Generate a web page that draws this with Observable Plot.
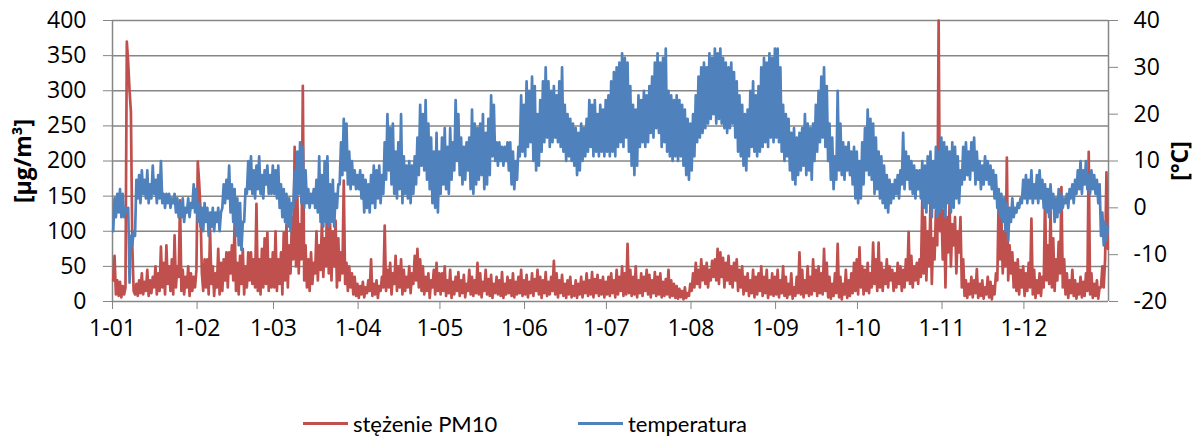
<!DOCTYPE html>
<html><head><meta charset="utf-8">
<script src="https://cdn.jsdelivr.net/npm/d3@7"></script>
<script src="https://cdn.jsdelivr.net/npm/@observablehq/plot@0.6"></script>
<style>
body{margin:0;background:#fff;}
#wrap{position:relative;width:1196px;height:437px;font-family:Lato,"Open Sans",sans-serif;background:#fff;}
#legend{position:absolute;top:408px;left:0;width:1196px;height:30px;font-size:22px;color:#000;}
.item{position:absolute;top:0;display:flex;align-items:center;height:30px;white-space:nowrap;}
.sw{width:45px;height:3px;margin-right:5px;}
</style></head><body>
<div id="wrap"><div id="chart"></div><div id="legend"></div></div>
<script>
const year = 2010;
const monthLabels = ["1-01","1-02","1-03","1-04","1-05","1-06","1-07","1-08","1-09","1-10","1-11","1-12"];
const pmTicks = [0,50,100,150,200,250,300,350,400];
const tempTicks = [-20,-10,0,10,20,30,40];
const seriesNames = ["stężenie PM10","temperatura"];
const seriesColors = ["#C0504D","#4F81BD"];

// temperatura [°C], two samples per day (night, day)
const tJan = [-5,2, -2,3, -1,4, -2,3, -2,0, -1,0, -16,-6, -8,-5, -6,6, 2,7, 1,8, 3,6, 2,8, 1,5, 2,9, 3,6, 1,7, 2,10, 1,3, 0,3, 1,3, 0,2, 1,3, -1,2, -2,1, -2,2, -3,0, -1,2, -2,1, 0,5, -1,4];
const tFeb = [-3,1, -4,0, -5,1, -3,0, -6,-1, -4,0, -5,-1, -3,0, -5,-1, 0,5, 1,6, 2,9, -1,5, -3,4, -6,2, -8,1, -9,-3, -3,4, 3,10, 4,11, 3,8, 2,9, 4,11, 3,7, 2,8, 5,9, 3,7, 3,9];
const tMar = [3,8, 2,9, 0,5, -2,4, -3,3, -4,2, -5,1, 0,8, 2,12, 3,14, 1,13, 0,8, 1,4, 0,3, 1,4, 0,6, -1,11, -3,7, -4,10, -3,11, -4,5, -3,6, -4,3, 0,5, 5,14, 7,19, 8,18, 5,12, 4,10, 5,8, 4,7];
const tApr = [4,8, 2,7, -1,6, 0,5, -1,7, 1,9, 0,8, 2,9, 1,7, 3,14, 6,20, 8,17, 5,18, 3,12, 2,14, 4,20, 1,11, 3,9, 2,10, 1,9, 3,11, 5,15, 7,22, 9,20, 8,23, 6,18, 4,15, 1,12, 0,16, -1,12];
const tMay = [3,15, 5,17, 4,13, 3,17, 6,14, 8,23, 10,20, 7,15, 5,13, 6,14, 8,15, 4,21, 3,18, 5,17, 6,18, 7,20, 4,16, 5,19, 7,24, 11,22, 10,14, 9,14, 10,13, 9,13, 10,14, 8,14, 5,12, 4,10, 6,13, 11,24, 12,22];
const tJun = [11,27, 13,25, 14,28, 10,26, 8,20, 9,23, 12,27, 14,30, 15,27, 13,25, 14,26, 15,24, 14,27, 13,30, 12,22, 10,20, 11,19, 10,18, 9,17, 7,16, 8,18, 10,17, 11,19, 12,23, 13,22, 11,23, 12,20, 11,22, 12,21, 11,23];
const tJul = [12,24, 11,27, 12,29, 11,30, 13,31, 14,33, 13,32, 15,31, 12,26, 9,22, 7,21, 9,24, 13,23, 14,25, 13,24, 14,26, 16,28, 15,31, 17,33, 16,31, 13,32, 14,34, 12,25, 11,24, 10,23, 11,24, 10,23, 11,22, 9,21, 7,19, 6,18];
const tAug = [8,20, 11,24, 14,28, 15,30, 16,31, 17,30, 18,33, 19,32, 20,34, 18,33, 19,34, 18,32, 17,31, 16,30, 17,31, 18,29, 15,27, 12,24, 11,22, 9,20, 8,21, 11,25, 13,27, 12,24, 11,26, 12,30, 13,32, 14,31, 13,33, 15,32, 14,34];
const tSep = [15,34, 14,30, 12,22, 10,20, 11,19, 8,16, 6,17, 5,15, 7,16, 8,17, 9,20, 7,18, 8,17, 6,18, 10,22, 12,25, 14,28, 15,30, 13,26, 10,18, 6,15, 4,11, 6,25, 8,18, 7,14, 6,13, 8,14, 7,12, 5,13, 2,12];
const tOct = [1,10, 2,14, 5,17, 8,21, 7,19, 6,18, 3,15, 4,12, 2,11, 1,9, 0,7, -1,6, 1,5, 2,6, 3,7, 2,8, 5,16, 4,12, 6,11, 4,10, 3,9, 2,8, 4,8, 2,10, 0,9, -1,11, 1,12, -2,10, 0,13, -2,12, -1,15];
const tNov = [0,14, -2,13, 1,12, -1,14, 0,13, 2,11, 1,8, 5,13, 6,14, 7,12, 6,14, 8,15, 5,12, 6,10, 4,9, 5,11, 6,10, 5,9, 4,8, 2,7, 0,4, -2,3, -3,2, -5,1, -7,0, -3,2, -2,0, -1,1, 0,2, 1,6];
const tDec = [2,7, 1,6, 2,8, 1,5, 2,7, 1,8, 2,6, 0,5, -1,4, -2,5, 0,3, -3,2, -2,4, -1,3, 0,2, 1,3, 0,4, 2,5, 1,6, 3,8, 4,10, 3,8, 5,10, 4,7, 3,8, 4,7, 3,6, 1,5, -6,-1, -8,-3, -7,-4];

// stężenie PM10 [µg/m³], two samples per day
const pJan = [30,65, 10,30, 8,28, 6,22, 10,20, 370,340, 300,270, 80,15, 10,25, 8,30, 12,40, 10,28, 15,45, 8,30, 12,35, 20,50, 10,40, 15,78, 20,55, 10,80, 25,50, 15,60, 10,94, 20,50, 35,144, 15,45, 10,35, 20,50, 8,40, 15,35, 20,45];
const pFeb = [199,170, 130,40, 15,60, 20,60, 10,103, 25,50, 8,40, 20,75, 10,55, 15,60, 30,70, 20,70, 40,80, 30,113, 15,55, 10,65, 25,75, 10,50, 20,70, 30,70, 25,60, 20,139, 15,60, 10,75, 20,90, 25,98, 15,60, 20,70];
const pMar = [20,100, 15,60, 25,70, 10,98, 30,110, 20,80, 40,120, 60,220, 50,150, 40,110, 60,307, 30,80, 20,60, 15,70, 25,55, 40,100, 30,80, 45,115, 35,90, 50,194, 40,110, 30,100, 50,115, 20,90, 30,70, 40,172, 25,55, 15,50, 20,40, 10,35, 8,25];
const pApr = [5,22, 10,28, 6,20, 12,30, 15,60, 8,25, 10,30, 5,22, 15,35, 20,108, 15,45, 20,55, 10,40, 25,65, 15,50, 20,60, 10,45, 15,35, 20,50, 12,40, 25,65, 30,75, 20,60, 15,50, 10,35, 15,40, 5,30, 20,45, 10,55, 15,40];
const pMay = [10,40, 15,50, 8,30, 12,45, 5,28, 10,35, 15,42, 8,30, 12,38, 6,25, 15,45, 10,35, 8,30, 12,55, 10,40, 6,28, 15,45, 10,32, 8,38, 5,25, 12,35, 10,30, 8,42, 5,25, 10,35, 12,30, 8,40, 6,28, 10,35, 12,45, 8,30];
const pJun = [10,38, 6,28, 12,40, 8,32, 15,45, 10,35, 5,30, 12,42, 8,28, 10,35, 15,58, 10,40, 6,30, 12,38, 8,25, 5,30, 10,35, 6,22, 8,30, 5,25, 10,35, 6,28, 12,40, 8,30, 10,42, 6,32, 12,38, 8,30, 10,35, 6,28];
const pJul = [10,35, 8,40, 12,30, 6,45, 10,35, 15,50, 8,40, 10,82, 12,45, 8,35, 10,50, 6,30, 12,40, 8,35, 15,45, 10,38, 6,30, 12,42, 8,35, 10,40, 6,28, 8,32, 10,45, 6,30, 8,25, 5,22, 4,18, 6,15, 3,20, 5,12, 8,25];
const pAug = [15,40, 20,55, 25,45, 20,60, 30,50, 25,55, 20,45, 30,58, 35,60, 30,75, 25,70, 35,62, 20,55, 30,65, 25,50, 20,55, 30,60, 15,45, 20,50, 10,35, 15,40, 8,30, 12,45, 6,35, 10,40, 15,50, 8,35, 12,45, 5,30, 10,40, 8,35];
const pSep = [10,45, 6,30, 12,50, 8,35, 5,25, 10,40, 4,20, 8,35, 12,70, 10,45, 6,30, 12,50, 8,35, 10,60, 15,45, 8,50, 12,40, 10,75, 15,55, 6,35, 4,25, 8,40, 12,82, 6,35, 3,25, 10,45, 5,30, 8,40, 12,55, 15,60];
const pOct = [10,77, 20,50, 10,45, 15,55, 12,40, 20,84, 25,60, 15,84, 20,55, 15,45, 25,60, 20,50, 30,45, 15,40, 20,55, 25,50, 15,45, 20,60, 30,99, 25,65, 20,50, 30,55, 25,60, 35,144, 40,120, 30,100, 50,140, 25,90, 60,130, 80,400, 100,140];
const pNov = [60,130, 20,120, 70,140, 50,110, 80,120, 40,100, 70,120, 20,60, 8,30, 5,25, 10,35, 6,30, 12,46, 5,25, 8,30, 4,20, 10,35, 6,28, 3,22, 10,40, 30,148, 60,120, 40,100, 50,205, 30,80, 40,70, 20,55, 15,60, 10,45, 20,50];
const pDec = [8,40, 15,55, 20,118, 10,45, 5,30, 12,40, 8,35, 20,151, 30,80, 25,132, 20,90, 15,60, 30,85, 40,163, 20,60, 10,40, 5,30, 12,45, 8,30, 4,25, 10,35, 6,28, 8,40, 15,213, 10,40, 5,25, 8,30, 4,20, 20,50, 20,60, 184,75];

const tempMonths = [tJan,tFeb,tMar,tApr,tMay,tJun,tJul,tAug,tSep,tOct,tNov,tDec];
const pmMonths = [pJan,pFeb,pMar,pApr,pMay,pJun,pJul,pAug,pSep,pOct,pNov,pDec];

function build(months) {
  const out = [];
  months.forEach((arr, m) => arr.forEach((v, i) => out.push({
    date: new Date(Date.UTC(year, m, 1 + Math.floor(i / 2), (i % 2) * 12 + 6)),
    value: v
  })));
  return out;
}
const pm = build(pmMonths);
const temp = build(tempMonths);
const toLeft = t => (t + 20) * 400 / 60;
const x0 = new Date(Date.UTC(year, 0, 1));
const x1 = new Date(Date.UTC(year + 1, 0, 1));
const monthStarts = d3.range(12).map(m => new Date(Date.UTC(year, m, 1)));
const grey = "#868686";
const tickFont = "'Open Sans', Lato, sans-serif";

const chart = Plot.plot({
  width: 1196,
  height: 360,
  marginLeft: 112,
  marginRight: 88,
  marginTop: 20,
  marginBottom: 59,
  style: {fontFamily: tickFont, fontSize: "23px", color: "#000", background: "#fff"},
  x: {type: "utc", domain: [x0, x1]},
  y: {domain: [0, 400]},
  marks: [
    Plot.gridY(pmTicks, {stroke: grey, strokeOpacity: 1, strokeWidth: 1.5}),
    Plot.ruleX([x0, x1], {stroke: grey, strokeWidth: 1.5}),
    Plot.axisX(monthStarts, {tickFormat: d => monthLabels[d.getUTCMonth()], tickSize: 8, tickPadding: 10, stroke: grey, fill: "#000", label: null}),
    Plot.axisY(pmTicks, {anchor: "left", tickSize: 9, tickPadding: 17, stroke: grey, fill: "#000", label: null}),
    Plot.axisY(tempTicks.map(toLeft), {anchor: "right", tickFormat: v => String(Math.round(v * 60 / 400 - 20)), tickSize: 9, tickPadding: 16, stroke: grey, fill: "#000", label: null}),
    Plot.line(pm, {x: "date", y: "value", stroke: seriesColors[0], strokeWidth: 2.7}),
    Plot.line(temp, {x: "date", y: d => toLeft(d.value), stroke: seriesColors[1], strokeWidth: 2.7}),
    Plot.text(["[µg/m³]"], {frameAnchor: "left", textAnchor: "middle", dx: -89, rotate: -90, fontWeight: "bold", fontSize: 23, fill: "#000"}),
    Plot.text(["[°C]"], {frameAnchor: "right", textAnchor: "middle", dx: 72, rotate: -90, fontWeight: "bold", fontSize: 23, fill: "#000"})
  ]
});
document.getElementById("chart").appendChild(chart);

const legend = document.getElementById("legend");
[303, 578].forEach((left, i) => {
  const item = document.createElement("div");
  item.className = "item";
  item.style.left = left + "px";
  item.innerHTML = `<span class="sw" style="background:${seriesColors[i]}"></span><span>${seriesNames[i]}</span>`;
  legend.appendChild(item);
});
</script>
</body></html>
